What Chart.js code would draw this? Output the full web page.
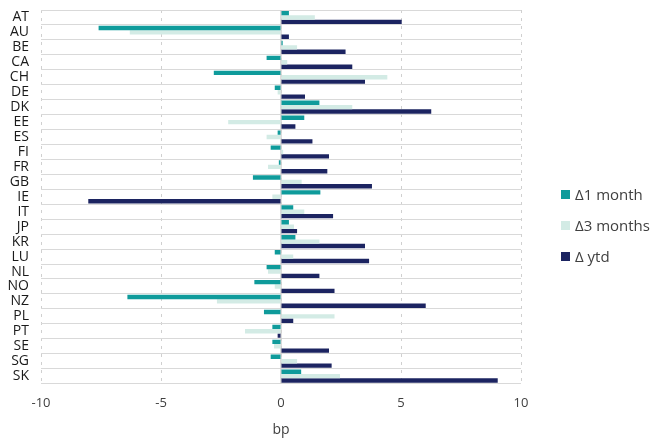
<!DOCTYPE html>
<html>
<head>
<meta charset="utf-8">
<script src="https://cdn.jsdelivr.net/npm/chart.js@4.4.1/dist/chart.umd.min.js"></script>
<style>
  html, body { margin: 0; background: #fff; }
  #wrap { position: relative; width: 654px; height: 442px; }
  #legend { position: absolute; left: 561px; top: 182px; font: 15px "Open Sans", Lato, sans-serif; color: #404040; }
  #legend div { display: flex; align-items: center; height: 24px; margin-bottom: 7px; white-space: nowrap; }
  #legend span { display: inline-block; width: 9px; height: 9px; margin-right: 5px; }
</style>
</head>
<body>
<div id="wrap"><canvas id="chart"></canvas><div id="legend"></div></div>
<script>
const countries = ['AT','AU','BE','CA','CH','DE','DK','EE','ES','FI','FR','GB','IE',
                   'IT','JP','KR','LU','NL','NO','NZ','PL','PT','SE','SG','SK'];
// one month, three months and year-to-date changes, in bp
const oneMonth = [0.33, -7.6, 0.07, -0.6, -2.8, -0.26, 1.6, 0.97, -0.14, -0.43, -0.09, -1.17, 1.64,
                  0.51, 0.33, 0.6, -0.26, -0.6, -1.11, -6.4, -0.71, -0.36, -0.36, -0.43, 0.84];
const threeMonths = [1.41, -6.3, 0.67, 0.26, 4.43, -0.14, 2.97, -2.2, -0.6, 0.09, -0.54, 0.86, -0.36,
                     0.97, 0.54, 1.6, 0.51, -0.54, -0.26, -2.67, 2.23, -1.5, -0.29, 0.67, 2.46];
const ytd = [5.03, 0.33, 2.69, 2.97, 3.5, 1.0, 6.26, 0.6, 1.31, 2.0, 1.93, 3.79, -8.03,
             2.17, 0.67, 3.5, 3.67, 1.6, 2.23, 6.03, 0.51, -0.14, 2.0, 2.11, 9.03];
const seriesNames = ['\u03941 month', '\u03943 months', '\u0394 ytd'];
const xTicks = [-10, -5, 0, 5, 10];

const colors = ['#0f9b9b', '#d3ebe5', '#1c2461'];
const font = '"Open Sans", Lato, sans-serif';

// solid line at zero, drawn under the bars
const zeroLine = {
    id: 'zeroLine',
    beforeDatasetsDraw(chart) {
        const { ctx, chartArea, scales } = chart;
        const x = scales.x.getPixelForValue(0);
        ctx.save();
        ctx.strokeStyle = '#d0d0d0';
        ctx.lineWidth = 1.5;
        ctx.beginPath();
        ctx.moveTo(x, chartArea.top);
        ctx.lineTo(x, chartArea.bottom);
        ctx.stroke();
        ctx.restore();
    }
};

const chart = new Chart(document.getElementById('chart'), {
    type: 'bar',
    data: {
        labels: countries,
        datasets: [oneMonth, threeMonths, ytd].map((d, i) => ({
            label: seriesNames[i],
            data: d,
            backgroundColor: colors[i],
            categoryPercentage: 0.88,
            barPercentage: 1.0
        }))
    },
    options: {
        indexAxis: 'y',
        responsive: true,
        maintainAspectRatio: false,
        animation: false,
        layout: { padding: { left: 0, right: 133, top: 10, bottom: 0 } },
        plugins: {
            legend: { display: false },
            tooltip: { enabled: false }
        },
        scales: {
            x: {
                min: -10,
                max: 10,
                afterBuildTicks: axis => { axis.ticks = xTicks.map(v => ({ value: v })); },
                grid: { color: '#d0d0d0', drawTicks: false },
                border: { display: false, dash: [3, 5] },
                ticks: { color: '#404040', padding: 12, font: { family: font, size: 13 } },
                title: { display: true, text: 'bp', color: '#404040', padding: { top: -2, bottom: 4 },
                         font: { family: font, size: 14 } }
            },
            y: {
                grid: { color: '#d9d9d9', drawTicks: false, offset: true },
                border: { display: false },
                ticks: { color: '#1a1a1a', padding: 12, autoSkip: false,
                         font: { family: font, size: 14 } },
                afterFit: s => { s.width = 41; s.paddingTop = 0; s.paddingBottom = 0; }
            }
        }
    },
    plugins: [zeroLine]
});

// legend built from the chart's own datasets
const legend = document.getElementById('legend');
chart.data.datasets.forEach(ds => {
    const row = document.createElement('div');
    const box = document.createElement('span');
    box.style.background = ds.backgroundColor;
    row.appendChild(box);
    row.appendChild(document.createTextNode(ds.label));
    legend.appendChild(row);
});
</script>
</body>
</html>
